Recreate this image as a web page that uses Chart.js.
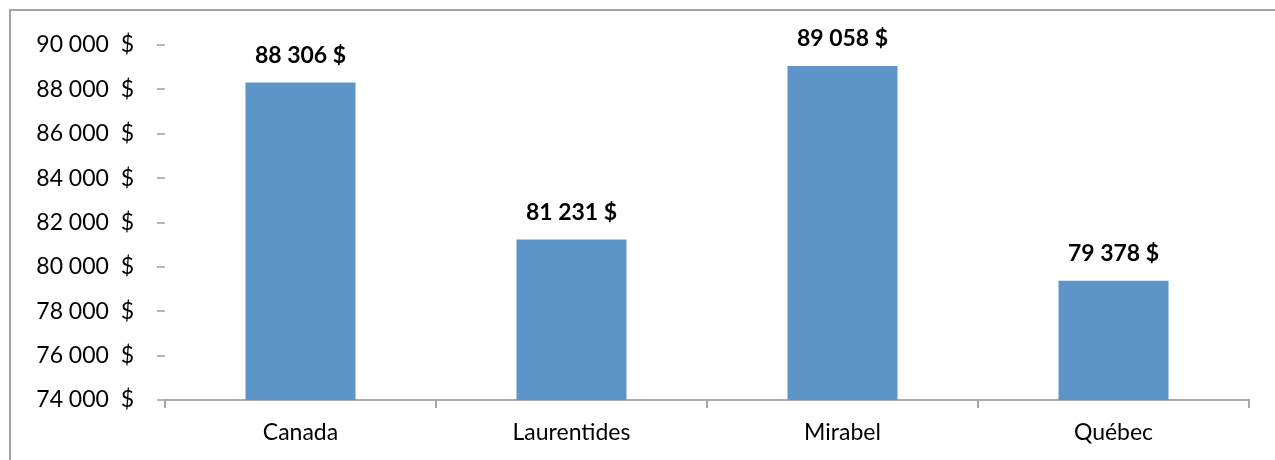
<!DOCTYPE html>
<html>
<head>
<meta charset="utf-8">
<script src="https://cdn.jsdelivr.net/npm/chart.js@4"></script>
<style>
  html, body { margin: 0; padding: 0; background: #fff; }
  #wrap { width: 1275px; height: 460px; position: relative; }
</style>
</head>
<body>
<div id="wrap"><canvas id="chart" width="1275" height="460"></canvas></div>
<script>
// Chart data
const regions = ['Canada', 'Laurentides', 'Mirabel', 'Québec'];
const incomes = [88306, 81231, 89058, 79378];
const yMin = 74000;
const yMax = 90000;
const yStep = 2000;

// "88306" -> "88 306"
function groupDigits(n) {
  return String(Math.round(n)).replace(/\B(?=(\d{3})+(?!\d))/g, ' ');
}

// Outer frame of the chart (only top and left edges are visible)
const framePlugin = {
  id: 'frame',
  beforeDraw(chart) {
    const ctx = chart.ctx;
    ctx.save();
    ctx.fillStyle = '#ffffff';
    ctx.fillRect(0, 0, chart.width, chart.height);
    ctx.strokeStyle = '#a3a3a3';
    ctx.lineWidth = 2;
    ctx.beginPath();
    ctx.moveTo(10, chart.height);
    ctx.lineTo(10, 10);
    ctx.lineTo(chart.width, 10);
    ctx.stroke();
    ctx.restore();
  }
};

// Bold value labels above each bar
const valueLabels = {
  id: 'valueLabels',
  afterDatasetsDraw(chart) {
    const ctx = chart.ctx;
    const meta = chart.getDatasetMeta(0);
    ctx.save();
    ctx.font = 'bold 23px Lato';
    ctx.fillStyle = '#000';
    ctx.textAlign = 'center';
    ctx.textBaseline = 'alphabetic';
    meta.data.forEach((bar, i) => {
      ctx.fillText(groupDigits(incomes[i]) + ' $', bar.x, bar.y - 20);
    });
    ctx.restore();
  }
};

const ctx = document.getElementById('chart').getContext('2d');
new Chart(ctx, {
  type: 'bar',
  data: {
    labels: regions,
    datasets: [{
      data: incomes,
      backgroundColor: '#5e95c9',
      barPercentage: 0.406,
      categoryPercentage: 1
    }]
  },
  options: {
    responsive: false,
    animation: false,
    layout: { padding: { left: 0, top: 45, right: 26, bottom: 0 } },
    plugins: {
      legend: { display: false },
      tooltip: { enabled: false }
    },
    scales: {
      x: {
        afterFit(scale) { scale.height = 60; },
        grid: {
          offset: true,
          drawOnChartArea: false,
          tickLength: 8,
          color: '#a6a6a6',
          lineWidth: 2
        },
        border: { display: true, color: '#aaaaaa', width: 2 },
        ticks: {
          color: '#000',
          padding: 11,
          font: { family: 'Lato', size: 23 }
        }
      },
      y: {
        min: yMin,
        max: yMax,
        afterFit(scale) { scale.width = 165; },
        grid: {
          drawOnChartArea: false,
          tickLength: 8,
          color: '#b5b5b5',
          lineWidth: 2
        },
        border: { display: false },
        ticks: {
          stepSize: yStep,
          color: '#000',
          padding: 23,
          font: { family: 'Lato', size: 23 },
          callback: (v) => groupDigits(v) + '  $'
        }
      }
    }
  },
  plugins: [framePlugin, valueLabels]
});
</script>
</body>
</html>
